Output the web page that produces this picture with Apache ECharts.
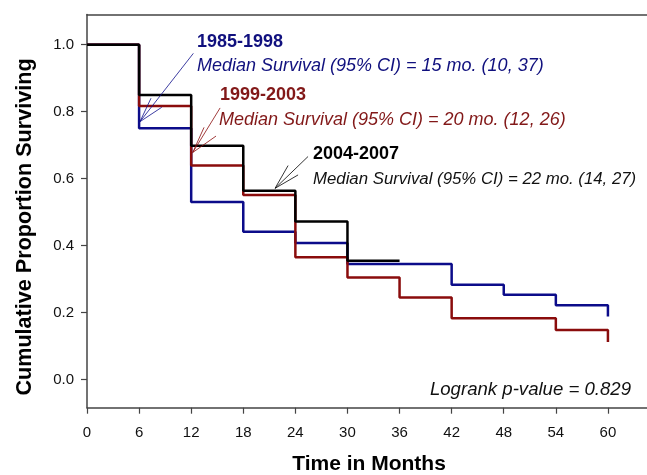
<!DOCTYPE html>
<html><head><meta charset="utf-8">
<script src="https://cdn.jsdelivr.net/npm/echarts@6/dist/echarts.min.js"></script>
<style>html,body{margin:0;padding:0;background:#fff}#c{width:647px;height:475px}</style>
</head><body><div id="c"></div>
<script>
// Kaplan-Meier step data (time in months, proportion surviving after that time)
const blueTimes  = [0, 6, 12, 18, 24, 30, 42, 48, 54, 60];
const blueSurv   = [1.0, 0.750, 0.530, 0.441, 0.408, 0.345, 0.283, 0.253, 0.222, 0.188];
const redTimes   = [0, 6, 12, 18, 24, 30, 36, 42, 54, 60];
const redSurv    = [1.0, 0.817, 0.639, 0.551, 0.365, 0.305, 0.245, 0.183, 0.148, 0.112];
const blackTimes = [0, 6, 12, 18, 24, 30, 36];
const blackSurv  = [1.0, 0.850, 0.698, 0.564, 0.472, 0.355, 0.355];

const xTicks = [0, 6, 12, 18, 24, 30, 36, 42, 48, 54, 60];
const yTicks = [0.0, 0.2, 0.4, 0.6, 0.8, 1.0];

const groupNames = ['1985-1998', '1999-2003', '2004-2007'];
const medianTexts = [
  'Median Survival (95% CI) = 15 mo. (10, 37)',
  'Median Survival (95% CI) = 20 mo. (12, 26)',
  'Median Survival (95% CI) = 22 mo. (14, 27)'
];
const logrankText = 'Logrank p-value = 0.829';

const BLUE = '#0c0c8a', RED = '#8a0c0c', BLACK = '#000000';
const FONT = 'Liberation Sans, Arial, sans-serif';

function pairs(xs, ys) { return xs.map((x, i) => [x, ys[i]]); }

const chart = echarts.init(document.getElementById('c'), null, {renderer: 'canvas'});
const axisLine = {show: true, onZero: false, lineStyle: {color: '#444', width: 1.5}};
const option = {
  animation: false,
  grid: {left: 87, top: 14.5, right: 0, bottom: 67.3, containLabel: false},
  xAxis: [{
    type: 'value', min: 0, max: 64.5, position: 'bottom',
    axisLine: axisLine,
    axisTick: {show: true, customValues: xTicks, length: 6, lineStyle: {color: '#444', width: 1.2}},
    axisLabel: {customValues: xTicks, margin: 18, fontSize: 15, color: '#111', fontFamily: FONT},
    splitLine: {show: false}
  }, {
    type: 'value', min: 0, max: 64.5, position: 'top',
    axisLine: axisLine, axisTick: {show: false}, axisLabel: {show: false}, splitLine: {show: false}
  }],
  yAxis: {
    type: 'value', min: -0.084, max: 1.09,
    axisLine: axisLine,
    axisTick: {show: true, customValues: yTicks, length: 6, lineStyle: {color: '#444', width: 1.2}},
    axisLabel: {customValues: yTicks, margin: 13, fontSize: 15, color: '#111', fontFamily: FONT,
      formatter: v => v.toFixed(1)},
    splitLine: {show: false}
  },
  series: [
    {name: groupNames[0], type: 'line', step: 'end', data: pairs(blueTimes, blueSurv), showSymbol: false,
      lineStyle: {color: BLUE, width: 2.5}, z: 2},
    {name: groupNames[1], type: 'line', step: 'end', data: pairs(redTimes, redSurv), showSymbol: false,
      lineStyle: {color: RED, width: 2.5}, z: 3},
    {name: groupNames[2], type: 'line', step: 'end', data: pairs(blackTimes, blackSurv), showSymbol: false,
      lineStyle: {color: BLACK, width: 2.5}, z: 4}
  ]
};
chart.setOption(option);

// Annotation arrows in data coordinates: [shaft start, tip, barb1, barb2]
const arrows = [
  {color: BLUE,  start: [12.25, 0.974], tip: [6.1, 0.770],  barbs: [[7.37, 0.840], [8.61, 0.813]]},
  {color: RED,   start: [15.33, 0.811], tip: [12.18, 0.678], barbs: [[13.48, 0.753], [14.86, 0.727]]},
  {color: BLACK, start: [25.46, 0.666], tip: [21.66, 0.571], barbs: [[23.16, 0.639], [24.31, 0.611]]}
];
const toPx = p => chart.convertToPixel({xAxisIndex: 0, yAxisIndex: 0}, p);
const graphics = [];
arrows.forEach(a => {
  const t = toPx(a.tip);
  [a.start].concat(a.barbs).forEach(s => {
    const p = toPx(s);
    graphics.push({type: 'line', shape: {x1: p[0], y1: p[1], x2: t[0], y2: t[1]},
      style: {stroke: a.color, lineWidth: 0.8}, z: 10});
  });
});
const texts = [
  {text: groupNames[0], x: 197, y: 42, color: '#10107e', bold: true, size: 18},
  {text: medianTexts[0], x: 197, y: 65.5, color: '#10107e', italic: true, size: 18},
  {text: groupNames[1], x: 220, y: 95.5, color: '#821818', bold: true, size: 18},
  {text: medianTexts[1], x: 219, y: 120, color: '#821818', italic: true, size: 18},
  {text: groupNames[2], x: 313, y: 154.5, color: '#000', bold: true, size: 18},
  {text: medianTexts[2], x: 313, y: 179, color: '#111', italic: true, size: 16.8},
];
texts.forEach(t => graphics.push({type: 'text', x: t.x, y: t.y, z: 10,
  style: {text: t.text, fill: t.color, font: (t.italic ? 'italic ' : '') + (t.bold ? 'bold ' : '') + t.size + 'px ' + FONT,
    textAlign: 'left', verticalAlign: 'middle'}}));
graphics.push({type: 'text', x: 631, y: 390, z: 10,
  style: {text: logrankText, fill: '#111', font: 'italic 18.6px ' + FONT, textAlign: 'right', verticalAlign: 'middle'}});
graphics.push({type: 'text', x: 369, y: 464, z: 10,
  style: {text: 'Time in Months', fill: '#000', font: 'bold 21px ' + FONT, textAlign: 'center', verticalAlign: 'middle'}});
graphics.push({type: 'text', x: 25, y: 227, rotation: Math.PI / 2, z: 10,
  style: {text: 'Cumulative Proportion Surviving', fill: '#000', font: 'bold 21.6px ' + FONT, textAlign: 'center', verticalAlign: 'middle'}});
chart.setOption({graphic: graphics});
</script>
</body></html>
